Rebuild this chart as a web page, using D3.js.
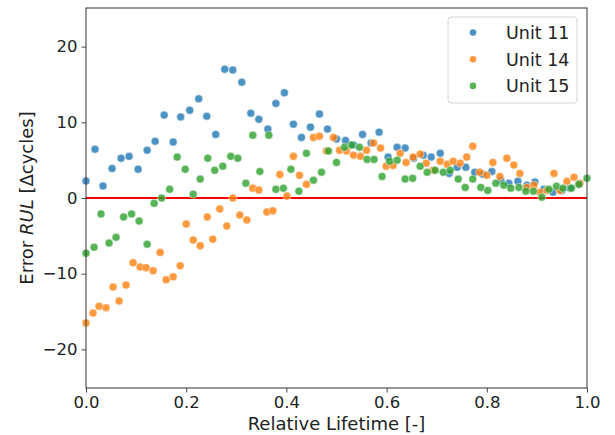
<!DOCTYPE html>
<html>
<head>
<meta charset="utf-8">
<script src="https://cdn.jsdelivr.net/npm/d3@7"></script>
<style>
body{margin:0;background:#fff;}
text{font-family:"DejaVu Sans",sans-serif;fill:#222;}
</style>
</head>
<body>
<div id="viz"></div>
<script>
// data: [relative lifetime, error]
var unit11=[[0,2.25],[0.018,6.45],[0.034,1.6],[0.052,3.9],[0.07,5.25],[0.086,5.5],[0.104,3.8],[0.122,6.3],
    [0.138,7.5],[0.156,10.95],[0.174,7.4],[0.189,10.7],[0.207,11.6],[0.225,13.1],[0.241,10.8],[0.259,8.4],
    [0.277,17.0],[0.293,16.9],[0.311,15.3],[0.329,11.2],[0.345,10.4],[0.363,9.1],[0.379,12.5],[0.396,13.9],
    [0.414,9.75],[0.43,8.0],[0.448,9.35],[0.466,11.1],[0.482,9.1],[0.5,7.8],[0.518,7.6],[0.534,7.0],
    [0.552,8.4],[0.569,7.25],[0.585,8.7],[0.603,5.4],[0.621,6.7],[0.637,6.6],[0.654,5.25],[0.673,5.65],
    [0.689,5.4],[0.707,5.9],[0.725,3.25],[0.741,4.05],[0.758,4.05],[0.776,3.4],[0.792,3.15],[0.81,3.5],
    [0.828,2.35],[0.844,1.95],[0.862,2.2],[0.88,1.7],[0.896,2.1],[0.914,1.15],[0.932,0.75],[0.95,1.0],
    [0.966,1.3],[0.984,1.8]];
var unit14=[[0,-16.5],[0.014,-15.2],[0.026,-14.3],[0.04,-14.5],[0.054,-11.75],[0.066,-13.6],[0.08,-11.5],
    [0.094,-8.55],[0.108,-9.1],[0.12,-9.2],[0.134,-9.6],[0.148,-7.2],[0.16,-10.8],[0.174,-10.4],[0.188,-8.95],
    [0.2,-3.45],[0.214,-5.55],[0.228,-6.3],[0.242,-2.5],[0.253,-5.45],[0.267,-1.45],[0.281,-3.7],[0.293,0],
    [0.307,-2.25],[0.321,-2.9],[0.333,1.3],[0.345,1.05],[0.361,-1.85],[0.373,-1.7],[0.387,3.1],[0.401,0.25],
    [0.414,5.5],[0.426,3.0],[0.44,1.8],[0.454,8.0],[0.466,8.15],[0.48,6.2],[0.494,8.0],[0.506,6.3],[0.52,6.2],
    [0.534,5.65],[0.548,5.5],[0.56,6.3],[0.574,7.25],[0.588,6.6],[0.599,4.2],[0.613,4.3],[0.627,5.9],
    [0.639,4.7],[0.653,5.4],[0.667,5.8],[0.679,4.6],[0.693,3.65],[0.707,4.85],[0.721,4.45],[0.733,4.85],
    [0.747,4.6],[0.76,5.4],[0.772,6.85],[0.786,3.4],[0.8,3.0],[0.812,4.7],[0.826,2.85],[0.84,5.25],
    [0.854,4.35],[0.866,3.25],[0.88,1.4],[0.894,1.7],[0.906,0.75],[0.92,1.0],[0.934,3.25],[0.946,1.0],
    [0.96,2.2],[0.974,2.75],[0.986,1.95]];
var unit15=[[0,-7.3],[0.016,-6.5],[0.03,-2.1],[0.046,-5.95],[0.06,-5.2],[0.075,-2.5],[0.091,-2.1],[0.106,-3.05],
    [0.122,-6.1],[0.136,-0.7],[0.151,0],[0.167,1.15],[0.182,5.4],[0.198,3.8],[0.214,0.5],[0.228,2.5],
    [0.243,5.25],[0.257,3.65],[0.273,4.2],[0.289,5.5],[0.303,5.25],[0.319,1.95],[0.333,8.3],[0.347,3.5],
    [0.365,8.3],[0.379,1.15],[0.394,1.3],[0.409,3.8],[0.425,0.9],[0.44,5.9],[0.454,2.35],[0.47,3.4],
    [0.484,6.2],[0.5,4.7],[0.516,6.7],[0.53,7.0],[0.546,6.7],[0.561,5.1],[0.575,5.1],[0.591,2.85],
    [0.606,4.85],[0.621,5.0],[0.637,2.5],[0.652,2.6],[0.667,4.2],[0.681,3.4],[0.697,3.65],[0.713,3.4],
    [0.727,3.65],[0.743,2.5],[0.757,1.4],[0.772,2.5],[0.788,1.4],[0.802,1.0],[0.818,1.95],[0.834,1.7],
    [0.848,1.3],[0.864,1.4],[0.878,0.9],[0.893,0.9],[0.91,0.1],[0.924,1.15],[0.939,1.55],[0.952,1.3],
    [0.969,1.3],[0.984,1.8],[1.0,2.6]];
var seriesNames=['Unit 11','Unit 14','Unit 15'];
var seriesColors=['#1f77b4','#ff7f0e','#2ca02c'];
var xTicks=[0,0.2,0.4,0.6,0.8,1.0];
var yTicks=[-20,-10,0,10,20];
//----------------------------------------------------------------
var width=615,
    height=435,
    mLeft=86,
    mRight=587,
    mTop=8,
    mBottom=388;

var xScale=d3.scaleLinear().domain([0,1]).range([mLeft,mRight]);
var yScale=d3.scaleLinear().domain([-25.1,25.1]).range([mBottom,mTop]);

var svg=d3.select('#viz').append('svg')
    .attr('width',width)
    .attr('height',height);

// zero line
svg.append('line')
    .attr('x1',xScale(0)).attr('x2',xScale(1))
    .attr('y1',yScale(0)).attr('y2',yScale(0))
    .style('stroke','#ff0000')
    .style('stroke-width',2);

var allSeries=[unit11,unit14,unit15];
allSeries.forEach(function(s,k){
    svg.append('g').selectAll('circle').data(s)
        .enter().append('circle')
        .attr('cx',function(d){return xScale(d[0]);})
        .attr('cy',function(d){return yScale(d[1]);})
        .attr('r',4)
        .style('fill',seriesColors[k])
        .style('fill-opacity',0.8)
        .style('stroke','#fff')
        .style('stroke-opacity',0.6)
        .style('stroke-width',0.8);
});

// axes
var xAxis=svg.append('g')
    .attr('transform','translate(0,'+mBottom+')')
    .call(d3.axisBottom(xScale).tickValues(xTicks).tickFormat(d3.format('.1f')).tickSizeOuter(0).tickSize(4.5).tickPadding(4));
var yAxis=svg.append('g')
    .attr('transform','translate('+mLeft+',0)')
    .call(d3.axisLeft(yScale).tickValues(yTicks).tickFormat(function(d){return d<0?'\u2212'+(-d):d;}).tickSizeOuter(0).tickSize(4.5).tickPadding(4));
[xAxis,yAxis].forEach(function(a){
    a.select('.domain').remove();
    a.selectAll('line').style('stroke','#333').style('stroke-width',0.9);
    a.selectAll('text').style('font-size','16.5px').style('font-family','DejaVu Sans').style('fill','#222');
});

// frame
svg.append('rect')
    .attr('x',mLeft).attr('y',mTop)
    .attr('width',mRight-mLeft).attr('height',mBottom-mTop)
    .style('fill','none')
    .style('stroke','#333')
    .style('stroke-width',1);

// labels
svg.append('text')
    .attr('x',(mLeft+mRight)/2).attr('y',430)
    .attr('text-anchor','middle')
    .style('font-size','18px')
    .text('Relative Lifetime [-]');
var yl=svg.append('text')
    .attr('transform','translate(33,'+((mTop+mBottom)/2)+') rotate(-90)')
    .attr('text-anchor','middle')
    .style('font-size','18px');
yl.append('tspan').text('Error ');
yl.append('tspan').style('font-style','italic').text('RUL');
yl.append('tspan').text(' [\u0394cycles]');

// legend
var lg=svg.append('g');
lg.append('rect')
    .attr('x',448).attr('y',17).attr('width',129).attr('height',86).attr('rx',3)
    .style('fill','#fff').style('fill-opacity',0.8)
    .style('stroke','#d6d6d6').style('stroke-width',1);
seriesNames.forEach(function(n,k){
    var y=32.5+k*26.7;
    lg.append('circle').attr('cx',473).attr('cy',y).attr('r',3.3)
        .style('fill',seriesColors[k]).style('fill-opacity',0.8);
    lg.append('text').attr('x',506).attr('y',y+6.5)
        .style('font-size','17.5px').text(n);
});
</script>
</body>
</html>
